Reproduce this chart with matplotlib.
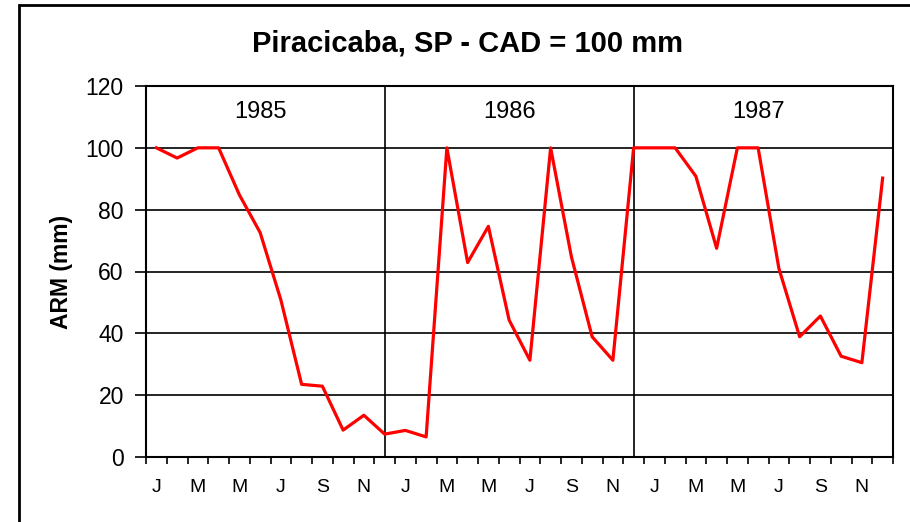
import matplotlib.pyplot as plt
from matplotlib.patches import Rectangle

plt.rcParams['font.family'] = ['Liberation Sans', 'DejaVu Sans']

# monthly soil water storage (ARM), Jan 1985 .. Dec 1987
years = ['1985', '1986', '1987']
arm_1985 = [100, 96.7, 100, 100, 84.8, 72.6, 50.8, 23.5, 22.9, 8.7, 13.5, 7.4]
arm_1986 = [8.6, 6.5, 100, 62.9, 74.6, 44.3, 31.3, 100, 64.8, 38.9, 31.3, 100]
arm_1987 = [100, 100, 90.8, 67.5, 100, 100, 61, 38.9, 45.6, 32.6, 30.5, 90.2]
month_labels = ['J', 'M', 'M', 'J', 'S', 'N']

arm = arm_1985 + arm_1986 + arm_1987
x = list(range(len(arm)))

fig = plt.figure(figsize=(9.1, 5.22), dpi=100)
ax = fig.add_axes([146 / 910, 1 - 457 / 522, (893 - 146) / 910, (457 - 86) / 522])

# outer frame of the chart area
fig.patches.append(Rectangle((19 / 910, -0.1), 1.2, (522 - 5) / 522 + 0.1,
                             transform=fig.transFigure, fill=False,
                             edgecolor='black', linewidth=2, clip_on=False))

ax.plot(x, arm, color='#ff0000', linewidth=2.3, zorder=3)

ax.set_xlim(-0.5, len(arm) - 0.5)
ax.set_ylim(0, 120)
ax.set_yticks(range(0, 121, 20))
ax.yaxis.grid(True, color='black', linewidth=1.2)
ax.set_axisbelow(True)

# year separators and labels
for k, yr in enumerate(years):
    if k > 0:
        ax.axvline(12 * k - 1, color='black', linewidth=1.2, zorder=2)
    ax.text(12 * k + 5, 111.5, yr, ha='center', va='center', fontsize=17)

ax.set_xticks([i - 0.5 for i in range(len(arm) + 1)])
ax.set_xticklabels([])
ax.set_xticks([i for i in range(0, len(arm), 2)], minor=True)
ax.set_xticklabels(month_labels * 3, minor=True, fontsize=14)
ax.tick_params(axis='x', which='major', direction='out', length=5, width=1.2)
ax.tick_params(axis='x', which='minor', length=0, pad=16)
ax.tick_params(axis='y', direction='out', length=8, width=1.2, labelsize=16.5, pad=8)

for s in ax.spines.values():
    s.set_linewidth(1.5)

ax.set_ylabel('ARM (mm)', fontsize=16.5, fontweight='bold', labelpad=9)
fig.text(468 / 910, 1 - 44 / 522, 'Piracicaba, SP - CAD = 100 mm',
         ha='center', va='center', fontsize=21, fontweight='bold')

fig.savefig('out.png', dpi=100)
